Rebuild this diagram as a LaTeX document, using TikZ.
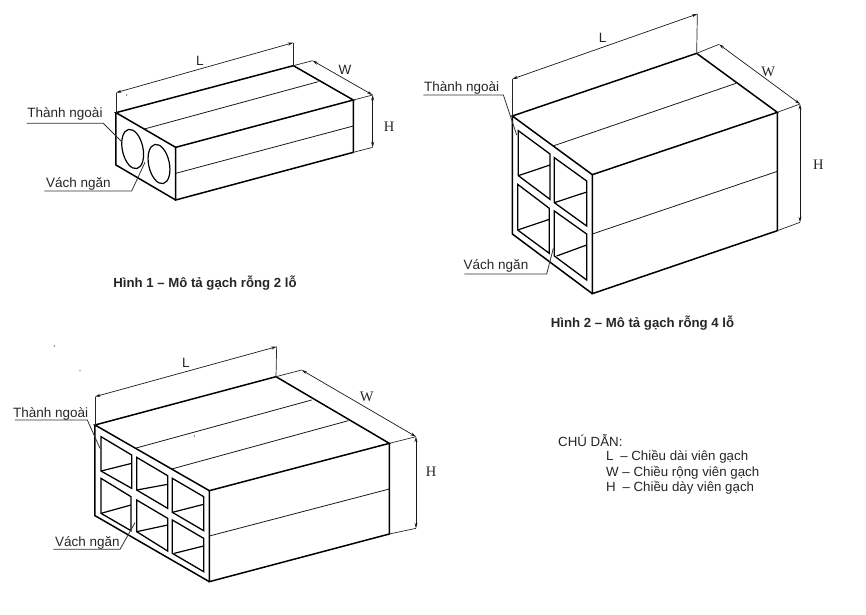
\documentclass[tikz,border=0pt]{standalone}
\usepackage{fontspec}
\setmainfont{Liberation Sans}
\newfontfamily\serifdim{Liberation Serif}
\usetikzlibrary{arrows.meta}
\tikzset{
  heavy/.style={line width=1.5pt,black,line join=miter},
  window/.style={line width=1.3pt,black,line join=miter},
  medium/.style={line width=1.2pt,black},
  thin line/.style={line width=0.8pt,black!90},
  extension/.style={line width=0.7pt,black!85},
  dimension/.style={line width=0.7pt,black!90,{Stealth[length=5.5pt,width=3pt]}-{Stealth[length=5.5pt,width=3pt]}},
  leader/.style={line width=0.8pt,black!80},
  label text/.style={font=\fontsize{13.5}{15}\selectfont,text=black!85,inner sep=0pt},
  dim sans/.style={font=\fontsize{13.5}{15}\selectfont,text=black!85,inner sep=0pt},
  dim serif/.style={font=\serifdim\fontsize{14.5}{15}\selectfont,text=black!85,inner sep=0pt},
  caption text/.style={font=\bfseries\fontsize{13.2}{15}\selectfont,text=black!85,inner sep=0pt},
  legend text/.style={font=\fontsize{13.3}{15}\selectfont,text=black!85,inner sep=0pt,anchor=west},
  speck/.style={fill=black!80,draw=none}
}
\begin{document}
\begin{tikzpicture}[x=1pt,y=-1pt]
\useasboundingbox (0,0) rectangle (866,614);
\fill[white] (0,0) rectangle (866,614);

% ---------- Figure 1
\begin{scope}[shift={(10,30)},scale=0.33333]
\coordinate (a1) at (318,248); \coordinate (b1) at (850,107);
\coordinate (c1) at (1030,210); \coordinate (d1) at (497,352);
\coordinate (e1) at (497,510); \coordinate (f1) at (1030,367);
\coordinate (g1) at (318,405);
\coordinate (la1) at (318,188); \coordinate (lb1) at (850,38);
\coordinate (wa1) at (908,92); \coordinate (wb1) at (1088,195);
\coordinate (hb1) at (1088,352);
\draw[thin line] (403,297) -- (925,155);
\draw[thin line] (497,430) -- (1030,288);
\draw[heavy] (a1) -- (b1) -- (c1) -- (d1) -- cycle;
\draw[heavy] (d1) -- (e1) -- (f1) -- (c1);
\draw[heavy] (a1) -- (g1) -- (e1);
\draw[medium] (368,357) ellipse [x radius=31,y radius=60,rotate=12];
\draw[medium] (447,402) ellipse [x radius=31,y radius=60,rotate=12];
\draw[extension] (a1) -- (la1);
\draw[extension] (b1) -- (lb1);
\draw[extension] (b1) -- (wa1);
\draw[extension] (c1) -- (wb1);
\draw[extension] (f1) -- (hb1);
\draw[dimension] (la1) -- (lb1);
\draw[dimension] (wa1) -- (wb1);
\draw[dimension] (wb1) -- (hb1);
\node[dim sans] (tl1) at (570,92) {L};
\node[dim sans] (tw1) at (1005,120) {W};
\node[dim serif] (th1) at (1137,290) {H};
\node[label text] (tt1) at (165,253) {Thành ngoài};
\node[label text] (tv1) at (205,462) {Vách ngăn};
\coordinate (u1a) at (50,280); \coordinate (u1b) at (280,280); \coordinate (u1c) at (333,333);
\coordinate (v1a) at (103,483); \coordinate (v1b) at (365,483); \coordinate (v1c) at (405,397);
\draw[leader] (u1a) -- (u1b) -- (u1c);
\draw[leader] (v1a) -- (v1b) -- (v1c);
\fill[speck] (350,195) circle (2);
\end{scope}

% ---------- Figure 2
\begin{scope}[shift={(420,10)},scale=0.33333]
\coordinate (a2) at (277,318); \coordinate (b2) at (830,130);
\coordinate (c2) at (1072,307); \coordinate (d2) at (517,494);
\coordinate (e2) at (517,851); \coordinate (f2) at (1072,662);
\coordinate (g2) at (277,672);
\coordinate (la2) at (277,207); \coordinate (lb2) at (832,12);
\coordinate (wa2) at (897,103); \coordinate (wb2) at (1140,282);
\coordinate (hb2) at (1140,637);
\draw[thin line] (402,407) -- (948,220);
\draw[thin line] (517,672) -- (1072,484);
\draw[heavy] (a2) -- (b2) -- (c2) -- (d2) -- cycle;
\draw[heavy] (d2) -- (e2) -- (f2) -- (c2);
\draw[heavy] (a2) -- (g2) -- (e2);
\foreach \p/\q/\r/\s/\t/\u in {
  295/362/390/432/568/497,
  403/443/500/513/648/578,
  293/523/388/595/730/660,
  403/603/500/672/810/738}{
  \draw[window] (\p,\q) -- (\r,\s) -- (\r,\t) -- (\p,\u) -- cycle;
}
\draw[medium] (295,497) -- (390,465);
\draw[medium] (403,578) -- (500,546);
\draw[medium] (293,660) -- (388,628);
\draw[medium] (410,738) -- (500,705);
\draw[extension] (a2) -- (la2);
\draw[extension] (b2) -- (lb2);
\draw[extension] (b2) -- (wa2);
\draw[extension] (c2) -- (wb2);
\draw[extension] (f2) -- (hb2);
\draw[dimension] (la2) -- (lb2);
\draw[dimension] (wa2) -- (wb2);
\draw[dimension] (wb2) -- (hb2);
\node[dim sans] (tl2) at (548,85) {L};
\node[dim serif] (tw2) at (1045,185) {W};
\node[dim serif] (th2) at (1195,465) {H};
\node[label text] (tt2) at (125,235) {Thành ngoài};
\node[label text] (tv2) at (228,768) {Vách ngăn};
\coordinate (u2a) at (10,255); \coordinate (u2b) at (250,255); \coordinate (u2c) at (290,375);
\coordinate (v2a) at (133,792); \coordinate (v2b) at (380,792); \coordinate (v2c) at (400,715);
\draw[leader] (u2a) -- (u2b) -- (u2c);
\draw[leader] (v2a) -- (v2b) -- (v2c);
\end{scope}

% ---------- Figure 3
\begin{scope}[shift={(0,340)},scale=0.33333]
\coordinate (a3) at (285,255); \coordinate (b3) at (828,110);
\coordinate (c3) at (1168,310); \coordinate (d3) at (628,452);
\coordinate (e3) at (628,725); \coordinate (f3) at (1168,582);
\coordinate (g3) at (285,527);
\coordinate (la3) at (285,170); \coordinate (lb3) at (830,20);
\coordinate (wa3) at (905,90); \coordinate (wb3) at (1248,290);
\coordinate (hb3) at (1248,565);
\draw[thin line] (405,325) -- (935,180);
\draw[thin line] (515,387) -- (1045,242);
\draw[thin line] (628,588) -- (1168,447);
\draw[heavy] (a3) -- (b3) -- (c3) -- (d3) -- cycle;
\draw[heavy] (d3) -- (e3) -- (f3) -- (c3);
\draw[heavy] (a3) -- (g3) -- (e3);
\foreach \p/\q/\r/\s/\t/\u in {
  303/290/395/345/445/393,
  410/352/503/407/505/450,
  517/415/611/470/572/517,
  303/415/393/470/572/520,
  410/480/503/535/633/575,
  517/540/611/595/695/640}{
  \draw[window] (\p,\q) -- (\r,\s) -- (\r,\t) -- (\p,\u) -- cycle;
}
\draw[medium] (303,393) -- (395,370);
\draw[medium] (410,450) -- (503,433);
\draw[medium] (517,517) -- (611,493);
\draw[medium] (303,520) -- (393,495);
\draw[medium] (410,575) -- (503,555);
\draw[medium] (523,640) -- (611,618);
\draw[extension] (a3) -- (la3);
\draw[extension] (b3) -- (lb3);
\draw[extension] (b3) -- (wa3);
\draw[extension] (c3) -- (wb3);
\draw[extension] (f3) -- (hb3);
\draw[dimension] (la3) -- (lb3);
\draw[dimension] (wa3) -- (wb3);
\draw[dimension] (wb3) -- (hb3);
\node[dim sans] (tl3) at (558,68) {L};
\node[dim serif] (tw3) at (1100,172) {W};
\node[dim serif] (th3) at (1293,395) {H};
\node[label text] (tt3) at (152,222) {Thành ngoài};
\node[label text] (tv3) at (262,608) {Vách ngăn};
\coordinate (u3a) at (45,240); \coordinate (u3b) at (262,240); \coordinate (u3c) at (300,325);
\coordinate (v3a) at (160,628); \coordinate (v3b) at (360,628); \coordinate (v3c) at (405,548);
\draw[leader] (u3a) -- (u3b) -- (u3c);
\draw[leader] (v3a) -- (v3b) -- (v3c);
\fill[speck] (163,18) circle (2);
\fill[speck] (240,92) circle (2);
\fill[speck] (583,288) circle (2);
\end{scope}

% ---------- Captions and legend
\node[caption text] (cap1) at (205,283) {Hình 1 – Mô tả gạch rỗng 2 lỗ};
\node[caption text] (cap2) at (642.5,323) {Hình 2 – Mô tả gạch rỗng 4 lỗ};
\node[legend text] (leg0) at (558,441) {CHÚ DẪN:};
\node[legend text] (leg1) at (606,457) {L\hspace{3pt} – Chiều dài viên gạch};
\node[legend text] (leg2) at (606,472.5) {W – Chiều rộng viên gạch};
\node[legend text] (leg3) at (606,488) {H\hspace{3pt} – Chiều dày viên gạch};
\end{tikzpicture}
\end{document}
